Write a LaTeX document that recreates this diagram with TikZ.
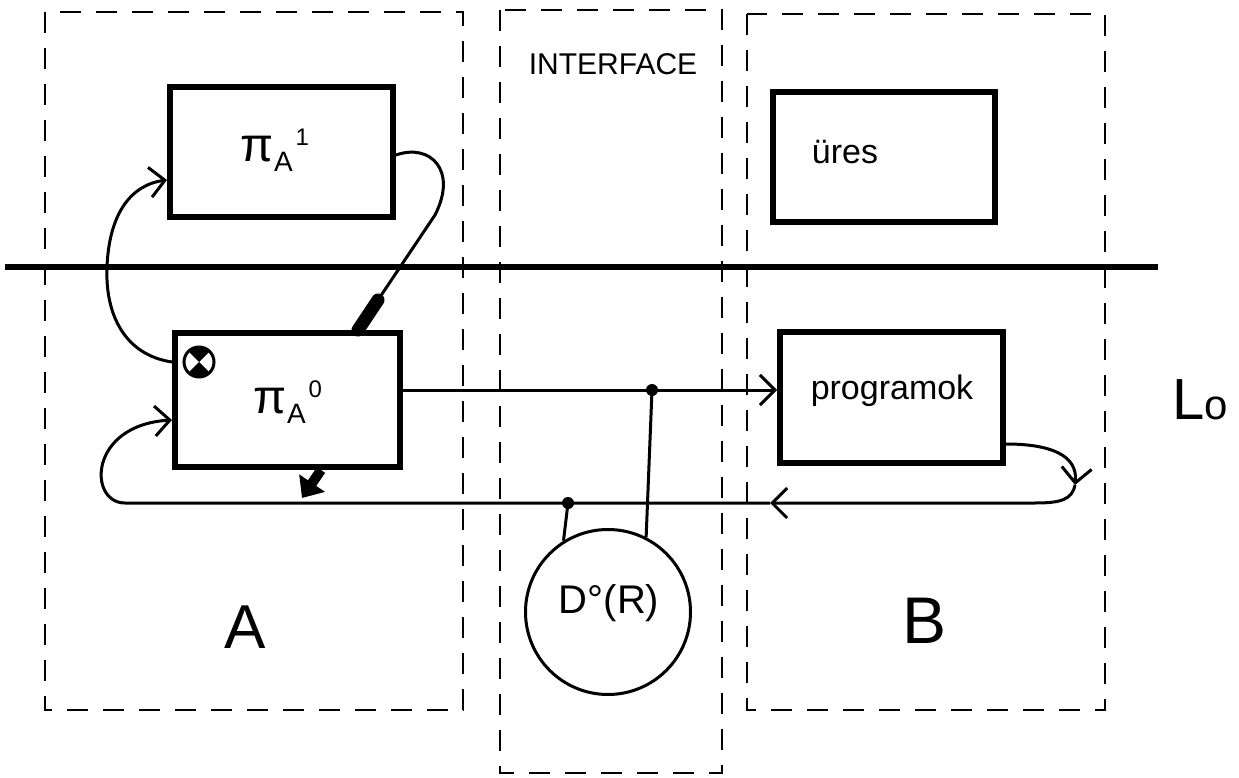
\documentclass[tikz,border=0pt]{standalone}
\usepackage{fontspec}
\setmainfont{Liberation Sans}
\usetikzlibrary{arrows.meta}
\newcommand\piAB[1]{{\fontsize{48}{52}\selectfont π}\raisebox{-10pt}{\fontsize{28}{30}\selectfont A}\hspace{3pt}\raisebox{16pt}{\fontsize{24}{26}\selectfont #1}}
\begin{document}
\begin{tikzpicture}[x=1pt,y=-1pt,
  box/.style={draw, line width=6pt, inner sep=0pt},
  conn/.style={line width=3pt},
  zone/.style={line width=2.4pt, dash pattern=on 21pt off 15pt},
  barb/.style={-{Straight Barb[length=15pt,width=30pt]}},
  lbl/.style={inner sep=0pt},
  dot/.style={circle, fill, inner sep=0pt, minimum size=12pt}]
\useasboundingbox (0,0) rectangle (1239,778);
\fill[white] (0,0) rectangle (1239,778);

% zones
\draw[zone] (45,12) rectangle (463,710);
\draw[zone] (500,10) rectangle (722,773);
\draw[zone] (747,14) rectangle (1105,710);

% level line
\coordinate (h1) at (5,267);
\coordinate (h2) at (1158,267);
\draw[line width=5.5pt] (h1) -- (h2);

% boxes
\node[box, minimum width=223pt, minimum height=130pt] (pa1) at (281.5,152) {};
\node[box, minimum width=222pt, minimum height=130pt] (ures) at (884,157) {};
\node[box, minimum width=225pt, minimum height=134pt] (pa0) at (287.5,400) {};
\node[box, minimum width=223pt, minimum height=131pt] (prog) at (891.5,397.5) {};
\node[circle, draw, line width=3pt, minimum size=165pt, inner sep=0pt] (circ) at (608,612) {};

% texts
\node[lbl] (pa1t) at (275,150) {\piAB{1}};
\node[lbl] (pa0t) at (288,402) {\piAB{0}};
\node[lbl, font=\fontsize{34}{40}\selectfont] (urest) at (845,152) {üres};
\node[lbl, font=\fontsize{34}{40}\selectfont] (progt) at (892,391) {programok};
\node[lbl, font=\fontsize{30}{36}\selectfont] (ift) at (613,64) {INTERFACE};
\node[lbl, font=\fontsize{62}{70}\selectfont] (At) at (245,627) {A};
\node[lbl, font=\fontsize{66}{72}\selectfont] (Bt) at (924,621) {B};
\node[lbl, font=\fontsize{58}{64}\selectfont] (Lt) at (1200,400) {L{\fontsize{42}{44}\selectfont o}};
\node[lbl, font=\fontsize{40}{44}\selectfont] (dt) at (609,603) {D°(R)};

% mixer symbol
\node[circle, draw, line width=3pt, minimum size=30pt, inner sep=0pt] (ox) at (199,362) {};
\fill (ox.center) -- ++(45:15pt) arc[start angle=45, end angle=135, radius=15pt] -- cycle;
\fill (ox.center) -- ++(225:15pt) arc[start angle=225, end angle=315, radius=15pt] -- cycle;

% helper coordinates
\coordinate (j1) at (652,390);
\coordinate (j2) at (568,503);
\coordinate (r1y) at (0,444);
\coordinate (r2) at (1075,485);
\coordinate (larr) at (770,503);
\coordinate (l1) at (125,503);
\coordinate (in0) at (0,420);
\coordinate (a1) at (0,180);
\coordinate (e1) at (0,155);
\coordinate (p1) at (378,300);
\coordinate (tx) at (358,0);
\coordinate (bx) at (321,0);
\coordinate (b1) at (302,498);

% pa0 -> programok
\draw[conn, barb] (pa0.east |- j1) -- (prog.west |- j1);
\node[dot] (d1) at (j1) {};
\draw[conn] (d1.center) -- (circ.63);

% return loop
\draw[conn, barb] (prog.east |- r1y) .. controls (1050,444) and (1078,455) .. (r2);
\draw[conn, barb] (r2) .. controls (1072,500) and (1060,503) .. (1035,503) -- (larr);
\draw[conn, barb] (larr) -- (l1) .. controls (88,503) and (88,425) .. (pa0.west |- in0);
\node[dot] (d2) at (j2) {};
\draw[conn] (d2.center) -- (circ.122);

% left loop pa0 -> pa1
\draw[conn, barb] (pa0.west |- ox) .. controls (125,355) and (105,315) .. (107,267)
  .. controls (109,215) and (130,185) .. (pa1.west |- a1);

% pa1 -> pa0 top
\draw[conn] (pa1.east |- e1) .. controls (430,143) and (458,170) .. (435,215) -- (p1);
\draw[line width=13pt, line cap=round] (p1) -- (pa0.north -| tx);

% thick arrow out of pa0 bottom
\draw[line width=10pt, -{Triangle[length=18pt,width=30pt]}] (pa0.south -| bx) -- (b1);
\end{tikzpicture}
\end{document}
